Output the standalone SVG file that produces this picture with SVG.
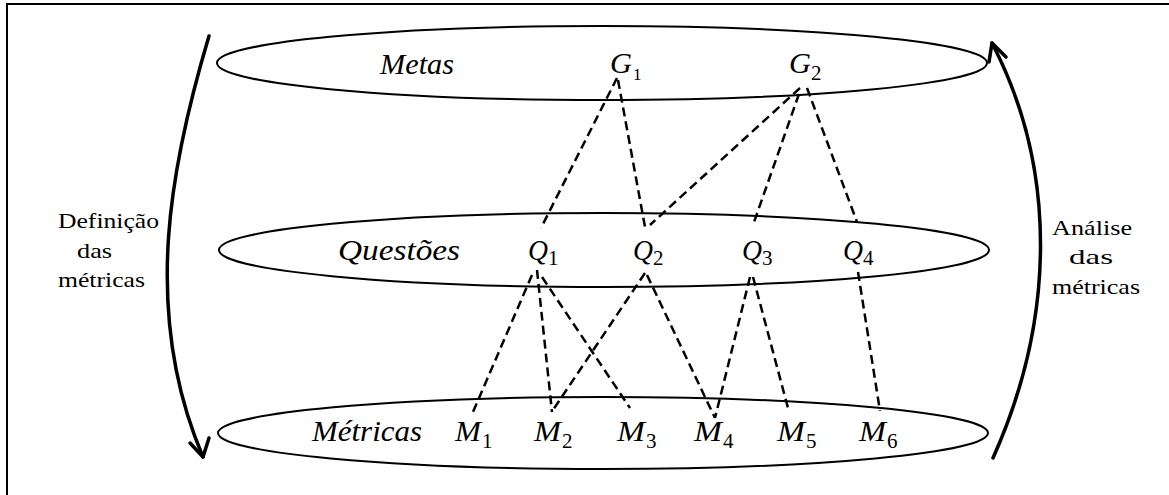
<svg xmlns="http://www.w3.org/2000/svg" width="1169" height="495" viewBox="0 0 1169 495">
<defs>
<style>
.frame{fill:none;stroke:#000;stroke-width:2}
.ell{fill:none;stroke:#000;stroke-width:2}
.dash{fill:none;stroke:#000;stroke-width:2.5;stroke-dasharray:9 5}
.flow{fill:none;stroke:#000;stroke-width:3.5;stroke-linecap:round;stroke-linejoin:round}
</style>
</defs>
<rect width="1169" height="495" fill="#fff"/>
<path class="frame" d="M7,495 V4 H1169"/>

<g font-family="Liberation Serif, Times New Roman, serif" fill="#000">
<g id="metas">
<ellipse class="ell" cx="602" cy="63" rx="385" ry="37"/>
<text x="380" y="74" font-size="29" font-style="italic" textLength="74" lengthAdjust="spacingAndGlyphs">Metas</text>
</g>
<g id="questoes">
<ellipse class="ell" cx="604" cy="250" rx="385" ry="37"/>
<text x="338" y="260" font-size="29" font-style="italic" textLength="122" lengthAdjust="spacingAndGlyphs">Questões</text>
</g>
<g id="metricas">
<ellipse class="ell" cx="603" cy="433" rx="385" ry="36"/>
<text x="312" y="441" font-size="29" font-style="italic" textLength="110" lengthAdjust="spacingAndGlyphs">Métricas</text>
</g>

<g id="G1"><text x="610" y="73" font-size="29" font-style="italic" textLength="22" lengthAdjust="spacingAndGlyphs">G</text><text x="633" y="80" font-size="17">1</text></g>
<g id="G2"><text x="789" y="73" font-size="29" font-style="italic" textLength="22" lengthAdjust="spacingAndGlyphs">G</text><text x="811" y="80" font-size="21">2</text></g>
<g id="Q1"><text x="528" y="260" font-size="29" font-style="italic" textLength="20" lengthAdjust="spacingAndGlyphs">Q</text><text x="548" y="265" font-size="21">1</text></g>
<g id="Q2"><text x="633" y="260" font-size="29" font-style="italic" textLength="20" lengthAdjust="spacingAndGlyphs">Q</text><text x="653" y="265" font-size="21">2</text></g>
<g id="Q3"><text x="742" y="260" font-size="29" font-style="italic" textLength="20" lengthAdjust="spacingAndGlyphs">Q</text><text x="762" y="265" font-size="21">3</text></g>
<g id="Q4"><text x="843" y="260" font-size="29" font-style="italic" textLength="20" lengthAdjust="spacingAndGlyphs">Q</text><text x="863" y="265" font-size="21">4</text></g>
<g id="M1"><text x="455" y="441" font-size="29" font-style="italic" textLength="26" lengthAdjust="spacingAndGlyphs">M</text><text x="482" y="448" font-size="21">1</text></g>
<g id="M2"><text x="534" y="441" font-size="29" font-style="italic" textLength="27" lengthAdjust="spacingAndGlyphs">M</text><text x="562" y="448" font-size="21">2</text></g>
<g id="M3"><text x="617" y="441" font-size="29" font-style="italic" textLength="28" lengthAdjust="spacingAndGlyphs">M</text><text x="646" y="448" font-size="21">3</text></g>
<g id="M4"><text x="694" y="441" font-size="29" font-style="italic" textLength="28" lengthAdjust="spacingAndGlyphs">M</text><text x="723" y="448" font-size="21">4</text></g>
<g id="M5"><text x="777" y="441" font-size="29" font-style="italic" textLength="28" lengthAdjust="spacingAndGlyphs">M</text><text x="806" y="448" font-size="21">5</text></g>
<g id="M6"><text x="859" y="441" font-size="29" font-style="italic" textLength="27" lengthAdjust="spacingAndGlyphs">M</text><text x="887" y="448" font-size="21">6</text></g>

<g id="definicao" font-size="22">
<text x="58" y="228" textLength="101" lengthAdjust="spacingAndGlyphs">Definição</text>
<text x="77" y="258" textLength="35" lengthAdjust="spacingAndGlyphs">das</text>
<text x="58" y="287" textLength="87" lengthAdjust="spacingAndGlyphs">métricas</text>
</g>
<g id="analise" font-size="22">
<text x="1052" y="235" textLength="80" lengthAdjust="spacingAndGlyphs">Análise</text>
<text x="1069" y="264" textLength="44" lengthAdjust="spacingAndGlyphs">das</text>
<text x="1052" y="294" textLength="88" lengthAdjust="spacingAndGlyphs">métricas</text>
</g>
</g>

<g id="connectors">
<path class="dash" d="M617,78 L541,228"/>
<path class="dash" d="M618,80 L645,227"/>
<path class="dash" d="M800,88 L650,225"/>
<path class="dash" d="M799,94 L753,225"/>
<path class="dash" d="M807,88 L857,222"/>
<path class="dash" d="M532,275 L473,412"/>
<path class="dash" d="M537,270 L552,412"/>
<path class="dash" d="M542,277 L630,408"/>
<path class="dash" d="M645,273 L553,410"/>
<path class="dash" d="M647,275 L715,418"/>
<path class="dash" d="M750,277 L715,418"/>
<path class="dash" d="M753,277 L788,408"/>
<path class="dash" d="M858,272 L880,411"/>
<path class="flow" d="M209,36 C172,160 140,310 203,457"/>
<path class="flow" d="M190,443 L203,457 L209,438"/>
<path class="flow" d="M993,458 C1055,320 1058,170 992,43"/>
<path class="flow" d="M989,62 L992,43 L1006,57"/>
</g>
</svg>
